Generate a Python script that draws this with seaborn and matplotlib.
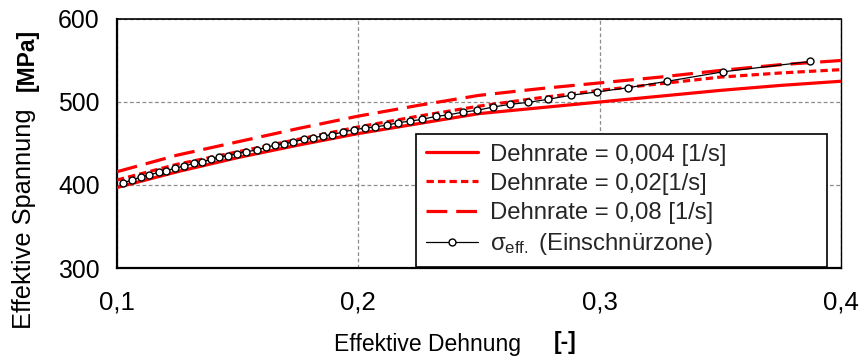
import matplotlib
matplotlib.use("Agg")
import matplotlib.pyplot as plt
import pandas as pd
import seaborn as sns

# Flow curves at three strain rates (effective strain, effective stress in MPa)
strain = [0.100, 0.125, 0.150, 0.175, 0.200, 0.225, 0.250, 0.275, 0.300, 0.325, 0.350, 0.375, 0.400]
stress_rate_0004 = [397, 416, 433, 448, 462, 474, 486, 493, 500, 507, 514, 520, 525]
stress_rate_002 = [406, 425, 440, 455, 470, 483, 495, 505, 514, 522, 530, 535, 539]
stress_rate_008 = [416, 436, 452, 468, 483, 496, 508, 516, 523, 530, 538, 545, 550]

# Effective stress in the necking zone
neck_strain = [0.1023, 0.1064, 0.1098, 0.1134, 0.1173, 0.1204, 0.1242, 0.1278, 0.1318, 0.1354,
               0.1391, 0.1424, 0.1461, 0.1497, 0.1535, 0.1579, 0.1617, 0.1653, 0.1691, 0.1729,
               0.1774, 0.1811, 0.1855, 0.1892, 0.1938, 0.1982, 0.2026, 0.2069, 0.2118, 0.2165,
               0.2214, 0.2263, 0.2321, 0.2370, 0.2435, 0.2491, 0.2557, 0.2629, 0.2705, 0.2785,
               0.2880, 0.2988, 0.3119, 0.3281, 0.3509, 0.3872]
neck_stress = [402.4, 406.1, 409.7, 412.1, 415.3, 416.9, 420.6, 422.6, 426.2, 427.8,
               431.0, 433.5, 435.1, 437.9, 440.3, 441.9, 445.6, 448.0, 449.6, 451.6,
               455.2, 456.9, 459.3, 460.5, 464.1, 466.5, 468.6, 469.8, 472.2, 475.0,
               477.0, 479.0, 482.7, 484.3, 487.9, 489.9, 493.9, 497.2, 499.6, 503.2,
               508.1, 512.1, 517.3, 525.0, 536.3, 548.8]

x_ticks = [0.1, 0.2, 0.3, 0.4]
x_tick_labels = ["0,1", "0,2", "0,3", "0,4"]
y_ticks = [300, 400, 500, 600]
y_tick_labels = ["300", "400", "500", "600"]

series_labels = ["Dehnrate = 0,004 [1/s]", "Dehnrate = 0,02[1/s]", "Dehnrate = 0,08 [1/s]"]
neck_label = r"σ$_{\mathrm{eff.}}$ (Einschnürzone)"

sns.set_style("white")
plt.rcParams["font.family"] = ["Liberation Sans", "DejaVu Sans"]
plt.rcParams["mathtext.fontset"] = "custom"
plt.rcParams["mathtext.rm"] = "Liberation Sans"
plt.rcParams["mathtext.it"] = "Liberation Sans:italic"
plt.rcParams["mathtext.bf"] = "Liberation Sans:bold"

fig = plt.figure(figsize=(8.61, 3.58), dpi=100)
ax = fig.add_axes([117 / 861, 1 - 268 / 358, 724 / 861, 249 / 358])

curves = pd.DataFrame({
    "strain": strain * 3,
    "stress": stress_rate_0004 + stress_rate_002 + stress_rate_008,
    "rate": [series_labels[0]] * len(strain) + [series_labels[1]] * len(strain)
            + [series_labels[2]] * len(strain),
})
line_styles = ["-", (0, (2.3, 1.3)), (0, (6.5, 2.8))]
for lab, ls in zip(series_labels, line_styles):
    sub = curves[curves["rate"] == lab]
    sns.lineplot(data=sub, x="strain", y="stress", ax=ax, color="#ff0000",
                 linewidth=2.3, linestyle=ls, label=lab, errorbar=None, zorder=3)

neck = pd.DataFrame({"strain": neck_strain, "stress": neck_stress})
sns.lineplot(data=neck, x="strain", y="stress", ax=ax, color="black", linewidth=0.9,
             marker="o", markersize=5, markerfacecolor="white", markeredgecolor="black",
             markeredgewidth=1.0, label=neck_label, errorbar=None, zorder=4)

ax.set_xlim(0.1, 0.4)
ax.set_ylim(300, 600)
ax.set_xticks(x_ticks)
ax.set_xticklabels(x_tick_labels)
ax.set_yticks(y_ticks)
ax.set_yticklabels(y_tick_labels)
ax.tick_params(axis="both", direction="inout", length=9, width=1.2, color="black",
               labelcolor="black")
ax.tick_params(axis="x", pad=12, labelsize=18.5)
ax.tick_params(axis="y", pad=8, labelsize=17.8)

ax.grid(True, color="#8c8c8c", linestyle=(0, (3, 2)), linewidth=0.9)
ax.set_axisbelow(True)

for side, lw in [("left", 1.6), ("bottom", 1.6), ("top", 1.2), ("right", 1.0)]:
    ax.spines[side].set_visible(True)
    ax.spines[side].set_color("black")
    ax.spines[side].set_linewidth(lw)

ax.set_xlabel("")
ax.set_ylabel("")

# Axis titles with bold unit parts
fig.text(24 / 861, 1 - 219 / 358, "Effektive Spannung", rotation=90, ha="center", va="center",
         fontsize=18.3, color="black")
fig.text(27 / 861, 1 - 60 / 358, "[MPa]", rotation=90, ha="center", va="center",
         fontsize=16.5, fontweight="bold", color="black")
fig.text(427 / 861, 1 - 345 / 358, "Effektive Dehnung", ha="center", va="center",
         fontsize=16.5, color="black")
fig.text(565 / 861, 1 - 342 / 358, "[-]", ha="center", va="center",
         fontsize=16.5, fontweight="bold", color="black")

handles, labels = ax.get_legend_handles_labels()
leg = ax.legend(handles, labels, loc="upper left",
                bbox_to_anchor=((416 - 117) / 724, (268 - 134) / 249, (827 - 416) / 724, 0.0),
                mode="expand", frameon=True, fancybox=False, shadow=False,
                edgecolor="black", framealpha=1.0, fontsize=17.2, borderpad=0.4,
                labelspacing=0.3, handlelength=2.2, handletextpad=0.5, borderaxespad=0.0)
leg.get_frame().set_linewidth(1.2)

fig.savefig("out.png", dpi=100)
